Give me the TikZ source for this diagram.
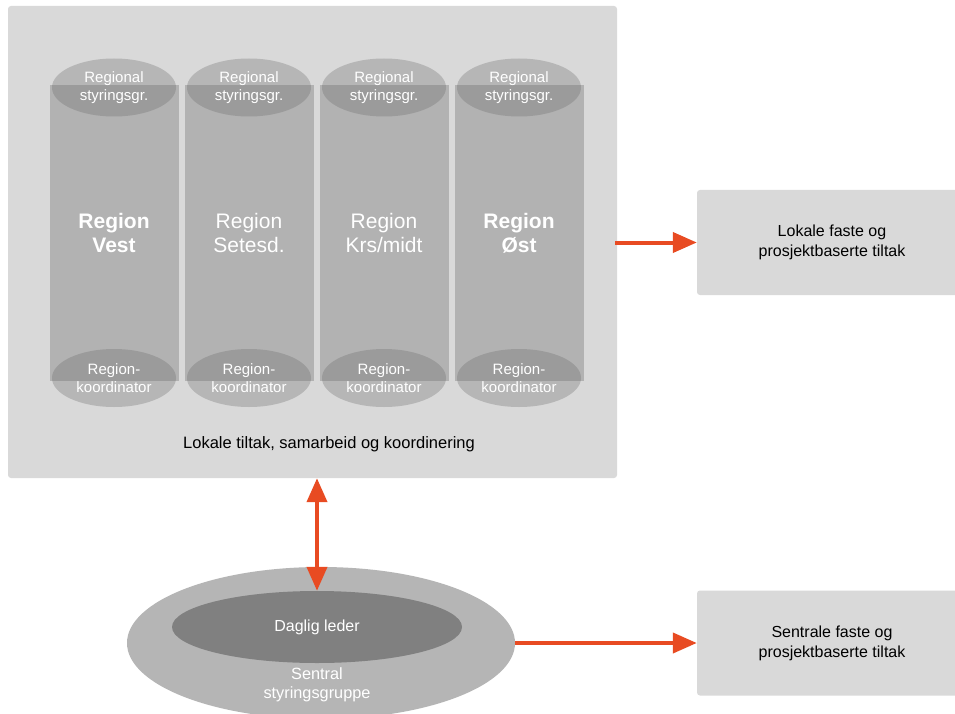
\documentclass[tikz,border=0pt]{standalone}
\usepackage{fontspec}
\setmainfont{Liberation Sans}
\usetikzlibrary{shapes.geometric,arrows.meta}
\definecolor{boxgray}{HTML}{D9D9D9}
\definecolor{colgray}{HTML}{B2B2B2}
\definecolor{ringgray}{HTML}{B5B5B5}
\definecolor{coregray}{HTML}{808080}
\definecolor{arrowred}{HTML}{E84B22}
\begin{document}
\begin{tikzpicture}[x=1pt,y=-1pt,
  panel/.style={fill=boxgray, draw=none, rounded corners=3pt, inner sep=0pt},
  column/.style={fill=colgray, draw=none, minimum width=129pt, minimum height=295pt, inner sep=0pt,
     text=white, align=center, font=\fontsize{21}{24}\selectfont},
  capell/.style={ellipse, fill=black!60, fill opacity=0.3, text opacity=1, draw=none,
     minimum width=124pt, minimum height=58pt, inner sep=0pt, text=white, align=center,
     font=\fontsize{15}{18.5}\selectfont},
  sidebox/.style={fill=boxgray, draw=none, rounded corners=3pt, inner sep=0pt,
     minimum width=270pt, minimum height=105pt, align=center, font=\fontsize{16}{20}\selectfont},
  flow/.style={draw=arrowred, line width=4pt},
  tipr/.style={-{Triangle[length=24pt,width=20pt]}},
]
\useasboundingbox (0,0) rectangle (955,714);
\fill[white] (0,0) rectangle (955,714);

% big panel
\node[panel, minimum width=609pt, minimum height=472pt] (panel) at (312.5,242) {};

% columns
\node[column] (c1) at (114,233) {\bfseries Region\\\bfseries Vest};
\node[column] (c2) at (249,233) {Region\\Setesd.};
\node[column] (c3) at (384,233) {Region\\Krs/midt};
\node[column] (c4) at (519,233) {\bfseries Region\\\bfseries Øst};

\foreach \i/\x in {1/114,2/249,3/384,4/519}{
  \node[capell] (t\i) at (\x,87.5) {Regional\\styringsgr.};
  \node[capell] (b\i) at (\x,378) {Region-\\koordinator};
}

\node[font=\fontsize{16.5}{18}\selectfont] (ptext) at (329,444) {Lokale tiltak, samarbeid og koordinering};

% right boxes
\node[sidebox] (box1) at (832,242.5) {Lokale faste og\\prosjektbaserte tiltak};
\node[sidebox] (box2) at (832,643) {Sentrale faste og\\prosjektbaserte tiltak};

% central ellipses
\node[ellipse, fill=ringgray, draw=none, minimum width=388pt, minimum height=152pt, inner sep=0pt] (ring) at (321,643) {};
\node[ellipse, fill=coregray, draw=none, minimum width=290pt, minimum height=72pt, inner sep=0pt,
      text=white, font=\fontsize{16}{18}\selectfont] (core) at (317,627) {Daglig leder};
\node[text=white, align=center, font=\fontsize{16.3}{19}\selectfont] (sent) at (317,685) {Sentral\\styringsgruppe};

% arrows
\draw[flow, tipr] ([xshift=-2pt]panel.east |- box1.west) -- (box1.west);
\draw[flow, tipr] (ring.east) -- (box2.west);
\draw[flow, {Triangle[length=24pt,width=20pt]}-{Triangle[length=24pt,width=20pt]}]
  (core.north |- panel.south) -- (core.north);
\end{tikzpicture}
\end{document}
